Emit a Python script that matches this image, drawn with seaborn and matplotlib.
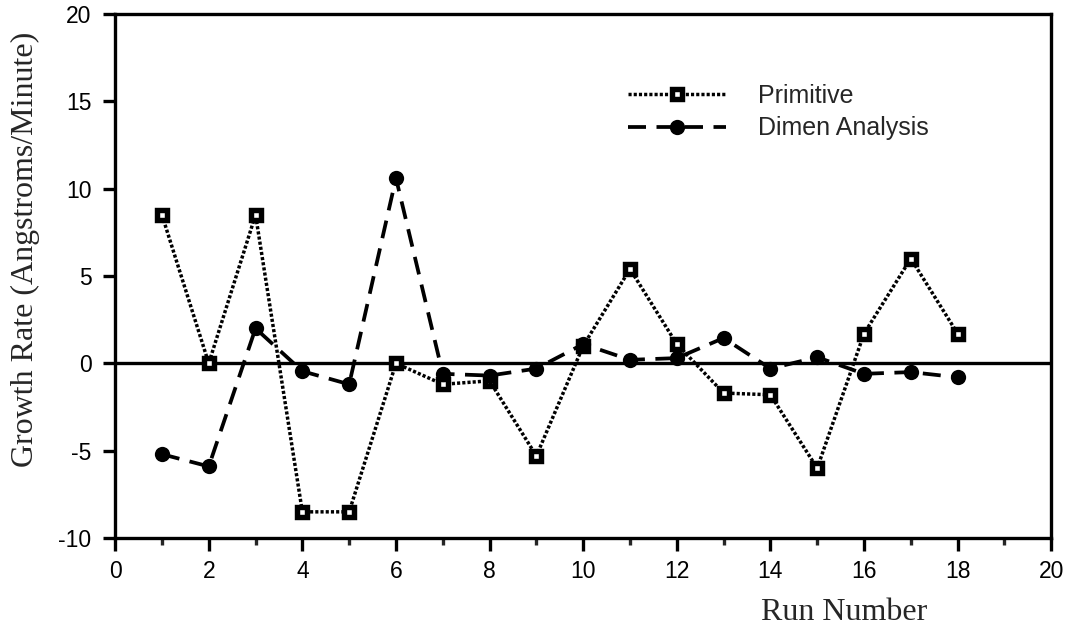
import matplotlib
matplotlib.use("Agg")
import matplotlib.pyplot as plt
from matplotlib.ticker import MultipleLocator
from matplotlib.lines import Line2D
import seaborn as sns
import pandas as pd

run = list(range(1, 19))
primitive = [8.5, 0.0, 8.5, -8.5, -8.5, 0.0, -1.2, -1.0, -5.3, 1.0, 5.4, 1.1, -1.7, -1.8, -6.0, 1.7, 6.0, 1.7]
dimen = [-5.2, -5.9, 2.0, -0.45, -1.2, 10.6, -0.6, -0.7, -0.3, 1.1, 0.2, 0.3, 1.45, -0.3, 0.35, -0.6, -0.5, -0.8]
labels = ["Primitive", "Dimen Analysis"]

df = pd.DataFrame({"run": run, "primitive": primitive, "dimen": dimen})

sns.set_style("ticks")
plt.rcParams["font.family"] = ["Liberation Sans", "DejaVu Sans"]
plt.rcParams["axes.unicode_minus"] = False

fig = plt.figure(figsize=(10.76, 6.33), dpi=100)
ax = fig.add_axes([0.107, 0.150, 0.870, 0.828])

lw_dot = 2.5
lw_dash = 2.7
dot_style = (0, (0.9, 0.6))
dash_style = (0, (4.8, 2.8))
sq_kw = dict(marker="s", markersize=6.9, markerfacecolor="white",
             markeredgecolor="black", markeredgewidth=3.9)
ci_kw = dict(marker="o", markersize=11, markerfacecolor="black",
             markeredgecolor="black", markeredgewidth=0)

sns.lineplot(data=df, x="run", y="primitive", ax=ax, sort=False, estimator=None,
             color="black", linestyle=dot_style, linewidth=lw_dot, zorder=3, **sq_kw)
sns.lineplot(data=df, x="run", y="dimen", ax=ax, sort=False, estimator=None,
             color="black", linestyle=dash_style, linewidth=lw_dash, zorder=3, **ci_kw)

ax.axhline(0, color="black", linewidth=2.4, zorder=2)

ax.set_xlim(0, 20)
ax.set_ylim(-10, 20)
ax.xaxis.set_major_locator(MultipleLocator(2))
ax.xaxis.set_minor_locator(MultipleLocator(1))
ax.yaxis.set_major_locator(MultipleLocator(5))

for s in ax.spines.values():
    s.set_linewidth(2.4)
    s.set_color("black")
    s.set_visible(True)

ax.tick_params(axis="both", which="major", direction="out", length=9, width=2.4,
               labelsize=16.5, colors="black", pad=8)
ax.tick_params(axis="x", which="minor", direction="out", length=5, width=2.4)
ax.tick_params(axis="x", which="major", pad=7)

serif = ["Liberation Serif", "DejaVu Serif"]
ax.set_xlabel("Run Number", fontsize=23, family=serif)
ax.xaxis.set_label_coords(0.779, -0.115)
ax.set_ylabel("Growth Rate (Angstroms/Minute)", fontsize=23, family=serif)
ax.yaxis.set_label_coords(-0.080, 0.55)

handles = [
    Line2D([], [], color="black", linestyle=dot_style, linewidth=lw_dot, **sq_kw),
    Line2D([], [], color="black", linestyle=dash_style, linewidth=lw_dash, **ci_kw),
]
ax.legend(handles, labels, loc="upper left", bbox_to_anchor=(0.548, 0.867),
          frameon=False, fontsize=18, handlelength=3.9, handletextpad=1.3,
          labelspacing=0.35, borderpad=0, borderaxespad=0, markerscale=1)

fig.savefig("out.png", dpi=100)
